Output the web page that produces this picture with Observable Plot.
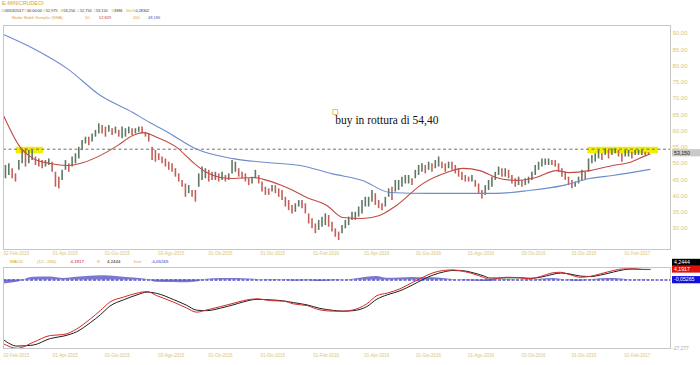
<!DOCTYPE html>
<html><head><meta charset="utf-8">
<script src="https://cdn.jsdelivr.net/npm/d3@7"></script>
<script src="https://cdn.jsdelivr.net/npm/@observablehq/plot@0.6"></script>
<style>
body{margin:0;background:#fff;}
#wrap{position:relative;width:700px;height:365px;overflow:hidden;background:#fff;}
#wrap svg{position:absolute;left:0;overflow:visible;}
</style></head><body><div id="wrap"></div>
<script>
// ---------- DATA ----------
const instrument = "E-MINICRUDEOI";
const headerLetters = ["D","T","O","H","L","C","V","Var%"];
const headerValues = ["03/03/2017","00:00:00","52,975","53,250","52,750","53,150","3386","0,28302"];
const smaLegend = ["Medie Mobili Semplici (SMA)","50","52,829","200","48,186"];
const macdLegend = ["MACD","(12 , 260):","4,1917","9:","4,2444","hist:","-0,05265"];

const tickDates = ["2015-02-02","2015-04-01","2015-06-01","2015-08-03","2015-10-01","2015-12-01","2016-02-01","2016-04-01","2016-06-01","2016-08-01","2016-10-03","2016-12-01","2017-02-01"];
const tickLabels = ["02-Feb-2015","01-Apr-2015","01-Giu-2015","03-Ago-2015","01-Ott-2015","01-Dic-2015","01-Feb-2016","01-Apr-2016","01-Giu-2016","01-Ago-2016","03-Ott-2016","01-Dic-2016","01-Feb-2017"];
const priceTicks = [30,35,40,45,50,55,60,65,70,75,80,85,90];

// price bars, one reading every 94 hours of chart time
const sampleStart = "2015-02-04T08:00:00Z";
const sampleStepHours = 94;
const priceHigh = [49.4,49.9,48.4,46.8,50.9,54.0,54.5,54.0,54.0,52.0,51.4,50.9,50.9,51.4,50.4,47.3,45.8,47.9,50.9,49.9,
52.0,53.0,55.0,57.1,58.1,58.1,59.1,60.2,62.2,61.7,61.2,61.7,60.7,61.2,60.2,61.2,60.7,61.2,60.7,60.7,
61.2,61.2,59.6,59.1,55.0,54.0,53.0,52.0,51.4,50.4,49.9,48.4,46.8,44.8,43.7,43.2,41.7,41.7,46.8,48.9,
48.4,47.9,47.3,47.3,46.8,47.3,46.3,46.8,50.9,50.4,48.4,47.3,46.8,45.3,45.8,47.9,46.3,44.3,42.7,42.2,
43.2,43.2,42.2,41.7,39.6,38.6,37.1,37.6,38.6,38.6,37.6,34.5,33.0,31.4,32.5,33.5,34.5,34.0,31.9,29.9,
28.9,30.9,32.5,33.5,35.0,35.0,36.6,38.6,39.6,39.6,41.7,40.7,38.6,37.6,39.6,42.2,42.7,44.8,44.8,45.8,
46.3,46.3,45.3,47.9,49.4,49.9,49.4,50.4,49.9,50.9,52.0,50.4,49.9,50.4,50.4,49.4,48.4,47.3,46.3,45.8,
46.3,44.8,43.7,41.7,43.2,44.8,45.8,47.3,48.9,48.4,48.4,47.9,46.3,45.3,45.8,44.8,45.3,45.8,47.3,49.4,
50.4,51.4,51.4,51.4,50.9,50.9,49.9,48.4,47.3,45.8,44.8,44.3,45.8,47.9,47.3,51.4,52.5,53.0,54.0,53.0,
54.5,54.0,54.5,54.5,54.0,53.0,54.0,54.0,53.5,54.0,54.0,54.0,53.5,53.25];
const priceLow = [45.3,46.3,45.3,44.3,47.9,49.9,48.9,49.9,50.9,49.4,48.9,48.4,48.9,49.4,47.3,42.7,42.2,44.8,47.9,47.3,
48.9,49.9,51.4,54.0,56.0,55.5,56.6,58.1,59.1,59.1,58.1,59.6,58.6,59.1,58.1,57.6,58.1,59.1,58.6,59.1,
59.6,59.1,58.1,56.6,50.9,50.4,50.9,49.9,48.9,47.9,47.3,45.8,44.3,42.7,39.6,40.7,39.6,38.1,42.7,44.8,
45.3,44.3,44.8,44.8,44.3,44.8,44.3,44.8,46.8,47.3,45.8,45.3,44.3,43.2,43.7,45.3,43.7,41.2,40.2,40.2,
41.2,40.7,39.6,38.6,36.6,35.5,34.5,35.0,36.6,36.1,34.5,31.4,29.9,28.4,29.4,30.4,30.9,30.4,28.9,27.3,
26.3,28.4,29.9,30.9,32.5,32.5,33.5,34.5,36.6,36.6,38.1,37.1,36.1,35.5,36.6,39.6,38.6,41.2,41.7,42.7,
43.7,43.7,43.2,45.3,46.3,47.3,46.8,47.9,47.3,48.4,48.9,48.4,47.3,48.4,47.9,46.8,45.8,44.8,44.3,44.3,
44.3,42.7,40.7,39.1,40.2,41.7,42.7,44.8,46.3,45.8,45.8,45.3,43.7,42.7,43.2,42.7,43.2,43.7,44.8,46.3,
47.9,48.9,49.4,49.4,49.4,48.9,47.3,45.8,44.8,43.2,42.2,42.7,43.7,44.8,44.8,47.3,49.9,50.4,51.4,50.9,
52.5,51.4,52.5,53.0,52.0,50.4,52.0,52.0,51.4,52.5,52.5,52.5,52.5,52.75];
const lastClose = 53.15;

const sma50Dates = ["2015-02-02","2015-02-22","2015-03-09","2015-03-29","2015-04-18","2015-05-07","2015-05-27","2015-06-16","2015-07-04","2015-07-16","2015-08-02","2015-08-25","2015-09-13","2015-09-29","2015-10-15","2015-10-30","2015-11-23","2015-12-09","2016-01-01","2016-01-25","2016-02-17","2016-03-07","2016-03-30","2016-04-19","2016-05-09","2016-06-09","2016-07-07","2016-07-26","2016-08-15","2016-09-03","2016-09-27","2016-10-20","2016-11-13","2016-11-28","2016-12-22","2017-01-18","2017-02-07","2017-02-27","2017-03-03"];
const sma50Values = [64.8,54.9,51.5,50.0,49.4,50.3,52.5,55.5,58.6,59.5,58.0,54.9,50.3,47.2,45.7,45.4,45.7,44.8,42.6,39.5,37.1,33.4,33.1,34.0,37.1,43.8,47.2,48.5,47.8,45.7,44.8,45.7,47.8,47.2,47.8,49.4,50.3,52.5,52.83];

const sma200Dates = ["2015-02-02","2015-03-09","2015-04-18","2015-05-27","2015-07-04","2015-07-24","2015-08-13","2015-09-18","2015-10-30","2015-12-09","2016-01-17","2016-02-24","2016-03-30","2016-05-01","2016-06-17","2016-09-03","2016-10-12","2016-11-20","2016-12-22","2017-01-18","2017-03-03"];
const sma200Values = [89.7,85.4,79.2,70.9,65.7,62.6,59.8,54.3,51.5,50.3,49.4,46.8,44.8,41.1,40.8,40.8,41.7,43.2,45.4,46.3,48.19];

const breakoutLevel = 54.40;
const zoneStart = ["2015-02-17","2016-12-20"];
const zoneEnd = ["2015-03-21","2017-03-13"];
const zoneLow = [53.0,53.0];
const zoneHigh = [55.0,55.0];
const noteText = ["buy in rottura di 54,40"];
const noteDate = ["2016-02-27"];
const noteMarkerPrice = [65.85];
const noteTextPrice = [62.15];

const macdDates = ["2015-02-02","2015-02-18","2015-03-09","2015-03-29","2015-04-14","2015-04-29","2015-05-15","2015-05-27","2015-06-07","2015-06-23","2015-07-09","2015-07-21","2015-08-01","2015-08-21","2015-09-05","2015-09-17","2015-09-29","2015-10-15","2015-10-31","2015-11-11","2015-11-27","2015-12-13","2015-12-28","2016-01-09","2016-01-25","2016-02-09","2016-02-25","2016-03-07","2016-03-19","2016-04-04","2016-04-16","2016-04-28","2016-05-13","2016-05-28","2016-06-09","2016-06-21","2016-07-03","2016-07-14","2016-07-26","2016-08-07","2016-08-19","2016-08-27","2016-09-08","2016-09-16","2016-10-01","2016-10-13","2016-10-25","2016-11-09","2016-11-18","2016-11-29","2016-12-11","2016-12-23","2017-01-04","2017-01-19","2017-01-31","2017-02-11","2017-02-23","2017-03-03"];
const macdValues = [-25.4,-27.2,-24.8,-22.1,-21.7,-19.5,-15.5,-12.1,-8.8,-6.8,-5.2,-4.6,-6.2,-8.8,-11.1,-12.8,-11.9,-10.6,-9.2,-8.2,-7.5,-8.2,-8.4,-9.5,-10.2,-11.9,-12.4,-12.4,-11.9,-9.5,-6.2,-5.2,-3.5,-0.9,1.1,2.9,3.8,4.05,3.5,2.5,1.1,0.2,0.9,1.1,0.9,0.5,1.4,2.9,3.1,2.1,1.1,1.5,2.5,3.8,4.45,4.45,4.18,4.1917];
const signalValues = [-23.8,-26.3,-25.9,-23.3,-22.3,-20.6,-17.0,-13.8,-10.4,-7.9,-5.9,-4.8,-5.3,-7.8,-10.0,-12.0,-12.2,-11.2,-9.8,-8.7,-7.7,-7.9,-8.3,-9.0,-9.9,-11.3,-12.1,-12.4,-12.2,-10.6,-7.6,-5.9,-4.3,-1.9,0.2,2.0,3.2,3.8,3.7,2.9,1.7,0.8,0.8,0.9,0.9,0.7,1.1,2.3,2.8,2.4,1.6,1.4,2.0,3.2,4.1,4.4,4.25,4.2444];
const macdAxisMin = -27.277;
const lastHist = -0.05265;

// ---------- BUILD ----------
const FONT = "Liberation Sans, Arial, sans-serif";
const GOLD = "#d2a62a";
const AXIS = "#d8c67a";
const pd = s => new Date(s + "T00:00:00Z");
const xDomain = [pd("2015-02-02"), new Date("2017-03-27T02:00:00Z")];

const bars = priceHigh.map((h, i) => ({
  date: d3.utcHour.offset(new Date(sampleStart), i * sampleStepHours),
  high: h, low: priceLow[i]
}));
bars.forEach((b, i) => {
  const mid = (b.high + b.low) / 2;
  const prev = i ? (bars[i-1].high + bars[i-1].low) / 2 : mid;
  b.up = mid >= prev;
});
const sma50 = sma50Dates.map((d, i) => ({date: pd(d), value: sma50Values[i]}));
const sma200 = sma200Dates.map((d, i) => ({date: pd(d), value: sma200Values[i]}));
const zones = zoneStart.map((d, i) => ({start: pd(d), end: pd(zoneEnd[i]), low: zoneLow[i], high: zoneHigh[i]}));
const notes = noteText.map((t, i) => ({text: t, date: pd(noteDate[i]), marker: noteMarkerPrice[i], ty: noteTextPrice[i]}));
const ticks = tickDates.map((d, i) => ({date: pd(d), label: tickLabels[i]}));
const macd = macdDates.map((d, i) => ({date: pd(d), macd: macdValues[i], signal: signalValues[i], hist: macdValues[i] - signalValues[i]}));
const fmt2 = d => d.toFixed(2).replace(".", ",");

const W = 700, MR = 30, ML = 3;

const mainPlot = Plot.plot({
  width: W, height: 262, marginTop: 25, marginBottom: 13, marginLeft: ML, marginRight: MR,
  x: {type: "utc", domain: xDomain, axis: null},
  y: {domain: [23.54, 92.46], axis: null},
  style: {background: "transparent", overflow: "visible"},
  marks: [
    Plot.rect(zones, {x1: "start", x2: "end", y1: "low", y2: "high", fill: "#f2ee00"}),
    Plot.ruleY([breakoutLevel], {stroke: "#707070", strokeDasharray: "3,2.5", strokeWidth: 1}),
    Plot.ruleX(bars, {x: "date", y1: "low", y2: "high", stroke: d => d.up ? "#5f7864" : "#c2605a", strokeWidth: 1.6}),
    Plot.line(sma200, {x: "date", y: "value", stroke: "#6d8ccc", strokeWidth: 1.1, curve: "monotone-x"}),
    Plot.line(sma50, {x: "date", y: "value", stroke: "#c24a44", strokeWidth: 1.1, curve: "monotone-x"}),
    Plot.frame({stroke: "#c6c6c6"}),
    Plot.text(priceTicks, {y: d => d, text: fmt2, frameAnchor: "right", dx: 2, textAnchor: "start", fontSize: 6, fill: AXIS, fontFamily: FONT}),
    Plot.text(ticks, {x: "date", text: "label", frameAnchor: "bottom", dy: 5, textAnchor: "start", fontSize: 4.5, fill: AXIS, fontFamily: FONT}),
    Plot.dot(notes, {x: "date", y: "marker", symbol: "square", r: 2.8, stroke: "#e0b43a", fill: "none", strokeWidth: 0.8}),
    Plot.text(notes, {x: "date", y: "ty", text: "text", textAnchor: "start", lineAnchor: "bottom", fontSize: 11.5, fill: "#111", fontFamily: "Liberation Serif, Times New Roman, serif"})
  ]
});

const macdPlot = Plot.plot({
  width: W, height: 103, marginTop: 5, marginBottom: 17, marginLeft: ML, marginRight: MR,
  x: {type: "utc", domain: xDomain, axis: null},
  y: {domain: [macdAxisMin, 5.0], axis: null},
  style: {background: "transparent", overflow: "visible"},
  marks: [
    Plot.areaY(macd, {x: "date", y: "hist", fill: "#5656c8", fillOpacity: 0.8, curve: "monotone-x"}),
    Plot.ruleY([0], {stroke: "#5656c8", strokeDasharray: "3,1.5", strokeWidth: 1.6}),
    Plot.line(macd, {x: "date", y: "signal", stroke: "#1e1e1e", strokeWidth: 1, curve: "monotone-x"}),
    Plot.line(macd, {x: "date", y: "macd", stroke: "#d42a2a", strokeWidth: 1, curve: "monotone-x"}),
    Plot.frame({stroke: "#c6c6c6"}),
    Plot.text(ticks, {x: "date", text: "label", frameAnchor: "bottom", dy: 8, textAnchor: "start", fontSize: 4.5, fill: AXIS, fontFamily: FONT}),
    Plot.text([macdAxisMin], {y: d => d, text: d => d.toFixed(3).replace(".", ","), frameAnchor: "right", dx: 2, textAnchor: "start", fontSize: 4.8, fill: "#aaa", fontFamily: FONT})
  ]
});

const wrap = d3.select("#wrap");
d3.select(mainPlot).style("top", "0px");
d3.select(macdPlot).style("top", "262px");
wrap.node().append(mainPlot);
wrap.node().append(macdPlot);

function valueTag(plot, value, text, bg, fg, dy) {
  const y = plot.scale("y").apply(value) + dy;
  const g = d3.select(plot).append("g").attr("text-anchor", "start");
  g.append("rect").attr("x", W - MR + 2).attr("y", y - 3.6).attr("width", MR - 2).attr("height", 7.2).attr("fill", bg);
  g.append("text").attr("x", W - MR + 4).attr("y", y).attr("dy", "0.35em").attr("font-size", 5.2)
    .attr("text-anchor", "start").attr("font-family", FONT).attr("fill", fg).text(text);
}
valueTag(mainPlot, lastClose, headerValues[5], "#c9c9c9", "#222", 0);
valueTag(macdPlot, signalValues[signalValues.length - 1], macdLegend[4], "#000", "#fff", -6.5);
valueTag(macdPlot, macdValues[macdValues.length - 1], macdLegend[2], "#e01010", "#fff", 0);
valueTag(macdPlot, lastHist, macdLegend[6], "#1010e0", "#fff", 0);

// header / legend text overlay
const ov = wrap.append("svg").attr("width", W).attr("height", 365).style("top", "0px").style("pointer-events", "none");
function put(text, x, y, size, color) {
  ov.append("text").attr("x", x).attr("y", y).attr("dy", "0.35em").attr("font-size", size)
    .attr("text-anchor", "start").attr("font-family", FONT).attr("fill", color).text(text);
}
put(instrument, 2, 3.6, 5.4, GOLD);
const letterX = [1.5, 24, 43, 60.8, 77.7, 93.8, 111.5, 126];
const valueX = [4.5, 27, 46, 63.5, 80, 96, 114, 135.5];
headerLetters.forEach((t, i) => put(t, letterX[i], 11, 3.8, GOLD));
headerValues.forEach((t, i) => put(t, valueX[i], 11, 3.8, "#333"));
const smaX = [11.7, 85, 99, 133, 148];
const smaC = [GOLD, GOLD, "#c0392b", GOLD, "#3d5fbf"];
smaLegend.forEach((t, i) => put(t, smaX[i], 17.5, 4, smaC[i]));
const mX = [10, 37, 70.5, 97, 107, 134, 151];
const mC = [GOLD, GOLD, "#cc1010", GOLD, "#111", GOLD, "#2a2ad0"];
macdLegend.forEach((t, i) => put(t, mX[i], 261, 4.4, mC[i]));
</script></body></html>
